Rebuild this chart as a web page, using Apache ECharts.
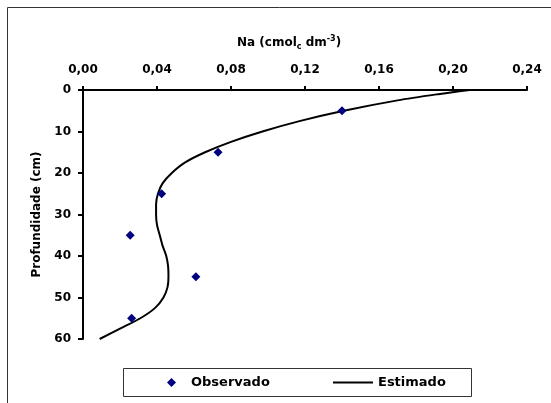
<!DOCTYPE html>
<html>
<head>
<meta charset="utf-8">
<script src="https://cdn.jsdelivr.net/npm/echarts@6/dist/echarts.min.js"></script>
<style>
  html, body { margin: 0; padding: 0; background: #fff; }
  #chart { width: 551px; height: 403px; }
</style>
</head>
<body>
<div id="chart"></div>
<script>
// observed Na per depth
var obsDepth = [5, 15, 25, 35, 45, 55];
var obsNa = [0.140, 0.073, 0.0425, 0.0255, 0.061, 0.0263];

// fitted curve (Estimado)
var estDepth = [0, 1, 2.5, 5, 7.5, 10, 12.5, 15, 17.5, 20, 22.5, 25, 27.5, 30, 32.5, 35, 37.5, 40, 42.5, 45, 47.5, 50, 52.5, 55, 57.5, 60];
var estNa = [0.209, 0.192, 0.170, 0.141, 0.117, 0.097, 0.080, 0.066, 0.055, 0.048, 0.043, 0.0405, 0.0395, 0.0395, 0.040, 0.0415, 0.043, 0.045, 0.046, 0.0462, 0.0457, 0.0435, 0.039, 0.031, 0.020, 0.009];

var font = 'DejaVu Sans';

var obsData = [];
for (var i = 0; i < obsDepth.length; i++) obsData.push([obsNa[i], obsDepth[i]]);
var estData = [];
for (var j = 0; j < estDepth.length; j++) estData.push([estNa[j], estDepth[j]]);

var chart = echarts.init(document.getElementById('chart'));

var option = {
  backgroundColor: '#fff',
  animation: false,
  textStyle: { fontFamily: font },
  title: {
    text: '{b|Na (cmol}{sub|c}{b| dm}{sup|-3}{b|)}',
    left: 237,
    top: 35,
    padding: 0,
    textStyle: {
      rich: {
        b: { fontFamily: font, fontWeight: 'bold', fontSize: 12, color: '#000', lineHeight: 16 },
        sub: { fontFamily: font, fontWeight: 'bold', fontSize: 8, color: '#000', lineHeight: 8, verticalAlign: 'bottom' },
        sup: { fontFamily: font, fontWeight: 'bold', fontSize: 8, color: '#000', lineHeight: 8, verticalAlign: 'top' }
      }
    }
  },
  grid: { left: 83, right: 24, top: 90, bottom: 64, containLabel: false },
  xAxis: {
    type: 'value',
    position: 'top',
    min: 0,
    max: 0.24,
    interval: 0.04,
    splitLine: { show: false },
    axisLine: { lineStyle: { color: '#000', width: 2 } },
    axisTick: { length: 4, lineStyle: { color: '#000', width: 2 } },
    axisLabel: {
      margin: 14,
      color: '#000',
      fontWeight: 'bold',
      fontSize: 12,
      fontFamily: font,
      formatter: function (v) { return v.toFixed(2).replace('.', ','); }
    }
  },
  yAxis: {
    type: 'value',
    inverse: true,
    min: 0,
    max: 60,
    interval: 10,
    name: 'Profundidade (cm)',
    nameLocation: 'middle',
    nameGap: 40,
    nameTextStyle: { color: '#000', fontWeight: 'bold', fontSize: 12, fontFamily: font },
    splitLine: { show: false },
    axisLine: { lineStyle: { color: '#000', width: 2 } },
    axisTick: { length: 5, lineStyle: { color: '#000', width: 2 } },
    axisLabel: { margin: 12, color: '#000', fontWeight: 'bold', fontSize: 12, fontFamily: font }
  },
  legend: [{
    data: [{ name: 'Observado', icon: 'diamond', itemStyle: { color: '#000080', opacity: 1 } }],
    left: 167,
    top: 376,
    padding: 0,
    itemWidth: 9,
    itemHeight: 9,
    textStyle: { color: '#000', fontWeight: 'bold', fontSize: 13, fontFamily: font, padding: [0, 0, 0, 10] }
  }, {
    data: [{ name: 'Estimado', icon: 'rect', itemStyle: { color: '#000' } }],
    left: 333,
    top: 376,
    padding: 0,
    itemWidth: 40,
    itemHeight: 2,
    textStyle: { color: '#000', fontWeight: 'bold', fontSize: 13, fontFamily: font }
  }],
  graphic: [{
    type: 'rect',
    shape: { x: 7.5, y: 7.5, width: 600, height: 500 },
    style: { fill: null, stroke: '#333', lineWidth: 1 },
    silent: true
  }, {
    type: 'rect',
    shape: { x: 123.5, y: 368.5, width: 348, height: 28 },
    style: { fill: null, stroke: '#333', lineWidth: 1 },
    silent: true
  }],
  series: [{
    name: 'Estimado',
    type: 'line',
    data: estData,
    smooth: 0.3,
    symbol: 'none',
    lineStyle: { color: '#000', width: 2 },
    itemStyle: { color: '#000' },
    z: 2
  }, {
    name: 'Observado',
    type: 'scatter',
    data: obsData,
    symbol: 'diamond',
    symbolSize: 9,
    itemStyle: { color: '#000080', opacity: 1 },
    z: 3
  }]
};

chart.setOption(option);
</script>
</body>
</html>
